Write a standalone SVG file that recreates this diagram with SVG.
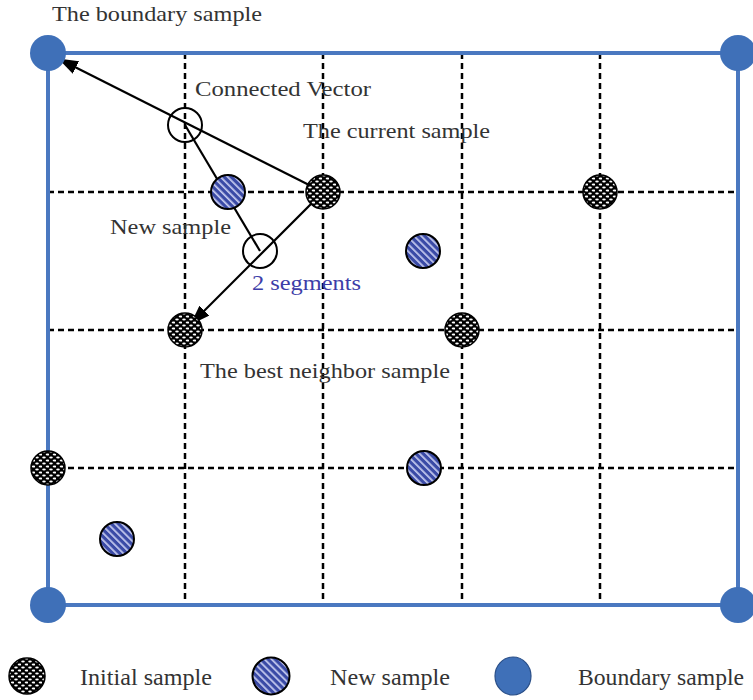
<svg xmlns="http://www.w3.org/2000/svg" width="753" height="700" viewBox="0 0 753 700">
<defs>
<pattern id="dots" width="7" height="6" patternUnits="userSpaceOnUse">
<rect width="7" height="6" fill="#000"/>
<ellipse cx="2" cy="1.5" rx="1.8" ry="1.1" fill="#fff"/>
<ellipse cx="5.5" cy="4.5" rx="1.8" ry="1.1" fill="#fff"/>
</pattern>
<pattern id="hatch" width="5" height="5" patternUnits="userSpaceOnUse" patternTransform="rotate(-45)">
<rect width="5" height="5" fill="#3a4aa6"/>
<rect x="0" width="1.7" height="5" fill="#c8cdf0"/>
</pattern>
<marker id="arr" markerWidth="20" markerHeight="14" refX="19" refY="7" orient="auto" markerUnits="userSpaceOnUse">
<path d="M0,0 L20,7 L0,14 Z" fill="#000"/>
</marker>
<style>
.grid{stroke:#000;stroke-width:2.5;stroke-dasharray:6,4;fill:none}
.border{stroke:#4a78c0;stroke-width:4;fill:none}
.bnd{fill:#3f70b8}
.init{fill:url(#dots);stroke:#000;stroke-width:1.5}
.new{fill:url(#hatch);stroke:#000;stroke-width:2}
.open{fill:none;stroke:#000;stroke-width:2}
.conn{stroke:#000;stroke-width:2.2;fill:none}
.lbl{font-family:"Liberation Serif","Times New Roman",serif;font-size:21px;fill:#333}
.leg{font-size:24px}
.blue{fill:#3d3da8}
</style>
</defs>
<g id="grid">
<line class="grid" x1="185" y1="53" x2="185" y2="605"/>
<line class="grid" x1="323" y1="53" x2="323" y2="605"/>
<line class="grid" x1="462" y1="53" x2="462" y2="605"/>
<line class="grid" x1="600" y1="53" x2="600" y2="605"/>
<line class="grid" x1="48" y1="192" x2="738" y2="192"/>
<line class="grid" x1="48" y1="330" x2="738" y2="330"/>
<line class="grid" x1="48" y1="468" x2="738" y2="468"/>
</g>
<g id="border">
<rect class="border" x="48" y="53" width="690" height="552"/>
</g>
<g id="connectors">
<line class="conn" x1="323" y1="192" x2="59" y2="59" marker-end="url(#arr)"/>
<line class="conn" x1="185" y1="125" x2="260" y2="251"/>
<line class="conn" x1="323" y1="192" x2="191" y2="324" marker-end="url(#arr)"/>
</g>
<g id="boundary-samples">
<circle class="bnd" cx="48" cy="53" r="18"/>
<circle class="bnd" cx="738" cy="53" r="18"/>
<circle class="bnd" cx="48" cy="605" r="18"/>
<circle class="bnd" cx="738" cy="605" r="18"/>
</g>
<g id="initial-samples">
<circle class="init" cx="323" cy="192" r="17"/>
<circle class="init" cx="600" cy="192" r="17"/>
<circle class="init" cx="185" cy="330" r="17"/>
<circle class="init" cx="462" cy="330" r="17"/>
<circle class="init" cx="48" cy="468" r="17"/>
</g>
<g id="new-samples">
<circle class="new" cx="228" cy="192" r="17"/>
<circle class="new" cx="423" cy="251" r="17"/>
<circle class="new" cx="424" cy="468" r="17"/>
<circle class="new" cx="117" cy="539" r="17"/>
</g>
<g id="segment-points">
<circle class="open" cx="185" cy="125" r="17"/>
<circle class="open" cx="260" cy="251" r="17"/>
</g>
<g id="labels">
<text class="lbl" x="52" y="21" textLength="210" lengthAdjust="spacingAndGlyphs">The boundary sample</text>
<text class="lbl" x="195" y="96" textLength="176" lengthAdjust="spacingAndGlyphs">Connected Vector</text>
<text class="lbl" x="303" y="138" textLength="187" lengthAdjust="spacingAndGlyphs">The current sample</text>
<text class="lbl" x="110" y="234" textLength="121" lengthAdjust="spacingAndGlyphs">New sample</text>
<text class="lbl blue" x="252" y="290" textLength="109" lengthAdjust="spacingAndGlyphs">2 segments</text>
<text class="lbl" x="200" y="378" textLength="250" lengthAdjust="spacingAndGlyphs">The best neighbor sample</text>
</g>
<g id="legend">
<circle class="init" cx="27" cy="676" r="18"/>
<text class="lbl leg" x="80" y="685" textLength="132" lengthAdjust="spacingAndGlyphs">Initial sample</text>
<circle class="new" cx="271" cy="676" r="18.5"/>
<text class="lbl leg" x="330" y="685" textLength="120" lengthAdjust="spacingAndGlyphs">New sample</text>
<ellipse class="bnd" cx="513" cy="676" rx="18" ry="19" stroke="#2a4f88" stroke-width="1.2"/>
<text class="lbl leg" x="578" y="685" textLength="166" lengthAdjust="spacingAndGlyphs">Boundary sample</text>
</g>
</svg>
